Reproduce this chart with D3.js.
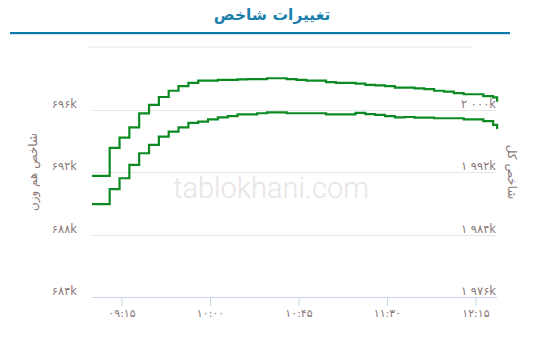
<!DOCTYPE html>
<html><head><meta charset="utf-8">
<script src="https://cdn.jsdelivr.net/npm/d3@7"></script>
<style>html,body{margin:0;padding:0;background:#fff;}svg{display:block;}</style>
</head><body>
<script>
const times = ["09:00","09:09","09:14","09:19","09:24","09:29","09:34","09:39","09:44","09:49","09:54","09:59",
"10:04","10:09","10:14","10:19","10:24","10:29","10:34","10:39","10:44","10:49","10:54","10:59",
"11:04","11:09","11:14","11:19","11:24","11:29","11:34","11:39","11:44","11:49","11:54","11:59",
"12:04","12:09","12:14","12:19","12:24","12:26"];
// شاخص کل (k) - right axis
const totalIndex = [1991.5,1995.1,1996.4,1997.7,1999.5,2000.6,2001.6,2002.4,2003.0,2003.4,2003.7,2003.7,
2003.8,2003.8,2003.85,2003.9,2003.9,2004.0,2004.0,2003.9,2003.8,2003.7,2003.7,2003.5,
2003.4,2003.4,2003.3,2003.15,2003.1,2003.0,2002.8,2002.8,2002.7,2002.6,2002.4,2002.3,
2002.1,2001.95,2001.95,2001.7,2001.55,2001.0];
// شاخص هم وزن (k) - left axis
const equalIndex = [689.95,690.9,691.6,692.45,693.2,693.73,694.26,694.58,694.86,695.15,695.22,695.37,
695.5,695.58,695.69,695.69,695.76,695.82,695.82,695.76,695.76,695.76,695.76,695.69,
695.69,695.69,695.78,695.71,695.65,695.58,695.5,695.52,695.48,695.48,695.44,695.44,
695.44,695.37,695.37,695.26,695.01,694.75];
const leftTicks = [684,688,692,696];
const leftTickLabels = ["۶۸۴k","۶۸۸k","۶۹۲k","۶۹۶k"];
const rightTicks = [1976,1984,1992,2000];
const rightTickLabels = ["۱ ۹۷۶k","۱ ۹۸۴k","۱ ۹۹۲k","۲ ۰۰۰k"];
const xTicks = ["09:15","10:00","10:45","11:30","12:15"];
const xTickLabels = ["۰۹:۱۵","۱۰:۰۰","۱۰:۴۵","۱۱:۳۰","۱۲:۱۵"];
const titleText = "تغییرات شاخص";
const leftTitle = "شاخص هم وزن";
const rightTitle = "شاخص کل";

const W = 549, H = 343;
const toMin = s => { const [h,m] = s.split(":").map(Number); return (h-9)*60+m; };
const labelColor = "#8a7878";
const font = "'DejaVu Sans', 'Noto Sans', sans-serif";

const svg = d3.select("body").append("svg").attr("width", W).attr("height", H);

const x = d3.scaleLinear().domain([0, 206]).range([92, 497.1]);
const yL = d3.scaleLinear().domain([684, 700]).range([297, 47]);
const yR = d3.scaleLinear().domain([1976, 2008]).range([297, 47]);

// title and rule
svg.append("text").attr("x", 272).attr("y", 20).attr("text-anchor", "middle")
  .attr("font-family", font).attr("font-size", 15.5).attr("font-weight", "bold")
  .attr("fill", "#1a7fab").text(titleText);
svg.append("rect").attr("x", 10).attr("y", 32).attr("width", 500).attr("height", 2.2).attr("fill", "#0a7aa8");

// gridlines
svg.append("line").attr("x1", 88).attr("x2", 472).attr("y1", yL(700)).attr("y2", yL(700))
  .attr("stroke", "#e6e6e6").attr("stroke-width", 1);
svg.selectAll("line.grid").data(leftTicks.slice(1)).enter().append("line").attr("class","grid")
  .attr("x1", 92).attr("x2", 497).attr("y1", d => Math.round(yL(d))+0.5).attr("y2", d => Math.round(yL(d))+0.5)
  .attr("stroke", "#e6e6e6").attr("stroke-width", 1);

// watermark
svg.append("text").attr("x", 271).attr("y", 198).attr("text-anchor", "middle")
  .attr("font-family", "Roboto, sans-serif").attr("font-weight", 300).attr("font-size", 29)
  .attr("fill", "#e8e4e4").text("tablokhani.com");

// x axis
const xAxis = d3.axisBottom(x).tickValues(xTicks.map(toMin)).tickSize(9)
  .tickFormat((d,i) => xTickLabels[i]);
const gx = svg.append("g").attr("transform", "translate(0,297)").call(xAxis);
gx.select(".domain").attr("stroke", "#ccd6eb").attr("d", "M92,0.5H497");
gx.selectAll(".tick line").attr("stroke", "#ccd6eb");
gx.selectAll(".tick text").attr("fill", labelColor).attr("font-family", font).attr("font-size", 11)
  .attr("direction", "ltr").attr("y", 12);

// left labels
svg.selectAll("text.yl").data(leftTicks).enter().append("text").attr("class","yl")
  .attr("x", 77).attr("y", d => yL(d) - 2).attr("text-anchor", "end")
  .attr("font-family", font).attr("font-size", 11.5).attr("fill", labelColor).attr("direction","ltr")
  .text((d,i) => leftTickLabels[i]);
// right labels
svg.selectAll("text.yr").data(rightTicks).enter().append("text").attr("class","yr")
  .attr("x", 496).attr("y", d => yR(d) - 2).attr("text-anchor", "end")
  .attr("font-family", font).attr("font-size", 11.5).attr("fill", labelColor).attr("direction","ltr")
  .text((d,i) => rightTickLabels[i]);

// axis titles
svg.append("text").attr("transform", "translate(37,172) rotate(-90)").attr("text-anchor", "middle")
  .attr("font-family", font).attr("font-size", 12).attr("fill", labelColor).text(leftTitle);
svg.append("text").attr("transform", "translate(508,172) rotate(90)").attr("text-anchor", "middle")
  .attr("font-family", font).attr("font-size", 12).attr("fill", labelColor).text(rightTitle);

// lines
const tm = times.map(toMin);
const lineR = d3.line().curve(d3.curveStepAfter).x((d,i) => x(tm[i])).y(d => yR(d));
const lineL = d3.line().curve(d3.curveStepAfter).x((d,i) => x(tm[i])).y(d => yL(d));
svg.append("path").attr("d", lineR(totalIndex)).attr("fill","none").attr("stroke","#0b8a22").attr("stroke-width",2.2);
svg.append("path").attr("d", lineL(equalIndex)).attr("fill","none").attr("stroke","#0b8a22").attr("stroke-width",2.2);
</script>
</body></html>
